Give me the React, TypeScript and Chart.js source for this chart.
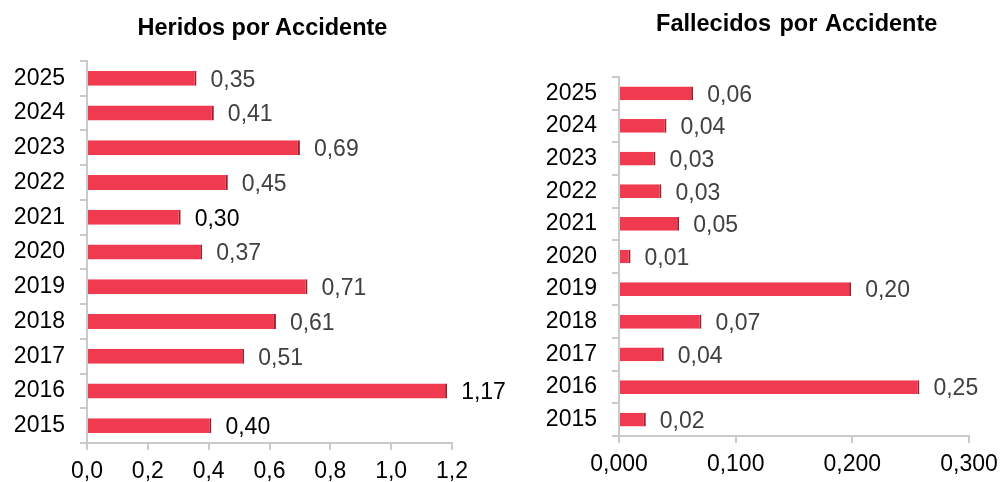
import React, { useEffect, useRef } from "react";
import { Chart, registerables } from "chart.js";

Chart.register(...registerables);

const FONT = '"Liberation Sans", Arial, sans-serif';

const years = ["2025", "2024", "2023", "2022", "2021", "2020", "2019", "2018", "2017", "2016", "2015"];

const heridos = [0.36, 0.417, 0.7, 0.463, 0.308, 0.379, 0.725, 0.621, 0.517, 1.184, 0.409];
const heridosLabels = ["0,35", "0,41", "0,69", "0,45", "0,30", "0,37", "0,71", "0,61", "0,51", "1,17", "0,40"];
const heridosLabelColors = ["#404040", "#404040", "#404040", "#404040", "#000000", "#404040", "#404040", "#404040", "#404040", "#000000", "#000000"];

const fallecidos = [0.0636, 0.0407, 0.0313, 0.0364, 0.0516, 0.0099, 0.199, 0.0707, 0.0384, 0.2575, 0.023];
const fallecidosLabels = ["0,06", "0,04", "0,03", "0,03", "0,05", "0,01", "0,20", "0,07", "0,04", "0,25", "0,02"];

const heridosTicks = { min: 0, max: 1.2, step: 0.2, decimals: 1 };
const fallecidosTicks = { min: 0, max: 0.3, step: 0.1, decimals: 3 };

const valueLabels = {
  id: "valueLabels",
  afterDatasetsDraw(chart: any, _args: any, opts: any) {
    const ctx = chart.ctx;
    const meta = chart.getDatasetMeta(0);
    ctx.save();
    ctx.font = `23px ${FONT}`;
    ctx.textBaseline = "middle";
    ctx.textAlign = "left";
    meta.data.forEach((bar: any, i: number) => {
      ctx.fillStyle = (opts.colors && opts.colors[i]) || "#404040";
      ctx.fillText(opts.labels[i], bar.x + opts.offset, bar.y + 2);
    });
    ctx.restore();
  },
};

type Cfg = {
  values: number[];
  labels: string[];
  labelColors?: string[];
  ticks: { min: number; max: number; step: number; decimals: number };
  width: number;
  yWidth: number;
  xHeight: number;
  padTop: number;
  padRight: number;
  barPct: number;
};

function BarChart({ cfg }: { cfg: Cfg }) {
  const ref = useRef<HTMLCanvasElement | null>(null);
  useEffect(() => {
    if (!ref.current) return;
    const axisColor = "#cacaca";
    const chart = new Chart(ref.current, {
      type: "bar",
      data: {
        labels: years,
        datasets: [
          {
            data: cfg.values,
            backgroundColor: "#EF3A50",
            borderColor: "#9a1f2f",
            borderWidth: { top: 0, right: 2, bottom: 0, left: 0 },
            borderSkipped: false,
            barPercentage: cfg.barPct,
            categoryPercentage: 1,
          },
        ],
      },
      plugins: [valueLabels as any],
      options: {
        indexAxis: "y",
        responsive: false,
        animation: false,
        devicePixelRatio: 1,
        layout: { padding: { top: cfg.padTop, right: cfg.padRight, left: 0, bottom: 0 } },
        plugins: {
          legend: { display: false },
          tooltip: { enabled: false },
          title: { display: false },
          valueLabels: { labels: cfg.labels, colors: cfg.labelColors, offset: 14 },
        } as any,
        scales: {
          x: {
            type: "linear",
            min: cfg.ticks.min,
            max: cfg.ticks.max,
            afterFit: (s: any) => {
              s.height = cfg.xHeight;
              s.paddingLeft = 0;
              s.paddingRight = 0;
            },
            ticks: {
              stepSize: cfg.ticks.step,
              color: "#000",
              padding: 8,
              font: { family: FONT, size: 23 },
              maxRotation: 0,
              callback: (v: any) => Number(v).toFixed(cfg.ticks.decimals).replace(".", ","),
            },
            grid: { drawOnChartArea: false, drawTicks: true, tickLength: 7, color: axisColor, lineWidth: 2 },
            border: { display: true, color: axisColor, width: 2 },
          },
          y: {
            type: "category",
            afterFit: (s: any) => {
              s.width = cfg.yWidth;
              s.paddingTop = 0;
              s.paddingBottom = 0;
            },
            ticks: {
              color: "#000",
              padding: 15,
              font: { family: FONT, size: 23 },
            },
            grid: { drawOnChartArea: false, drawTicks: true, tickLength: 7, color: axisColor, lineWidth: 2, offset: true },
            border: { display: true, color: axisColor, width: 2 },
          },
        },
      } as any,
    });
    return () => chart.destroy();
  }, [cfg]);
  return <canvas ref={ref} width={cfg.width} height={482} style={{ display: "block", width: cfg.width, height: 482 }} />;
}

const leftCfg: Cfg = {
  values: heridos,
  labels: heridosLabels,
  labelColors: heridosLabelColors,
  ticks: heridosTicks,
  width: 530,
  yWidth: 87,
  xHeight: 39,
  padTop: 61,
  padRight: 78,
  barPct: 0.43,
};

const rightCfg: Cfg = {
  values: fallecidos,
  labels: fallecidosLabels,
  ticks: fallecidosTicks,
  width: 500,
  yWidth: 119,
  xHeight: 46,
  padTop: 77,
  padRight: 31,
  barPct: 0.42,
};

const titleStyle: React.CSSProperties = {
  position: "absolute",
  fontFamily: FONT,
  fontWeight: "bold",
  fontSize: "23.5px",
  lineHeight: "23.5px",
  color: "#000",
  whiteSpace: "nowrap",
  transform: "translateX(-50%)",
};

export default function App() {
  return (
    <div style={{ position: "absolute", left: 0, top: 0, width: 1000, height: 482, background: "#fff", overflow: "hidden" }}>
      <div style={{ position: "absolute", left: 0, top: 0 }}>
        <BarChart cfg={leftCfg} />
      </div>
      <div style={{ position: "absolute", left: 500, top: 0 }}>
        <BarChart cfg={rightCfg} />
      </div>
      <div style={{ ...titleStyle, left: 262.5, top: 16 }}>Heridos por Accidente</div>
      <div style={{ ...titleStyle, left: 796.7, top: 12, wordSpacing: "2px" }}>Fallecidos por Accidente</div>
    </div>
  );
}
